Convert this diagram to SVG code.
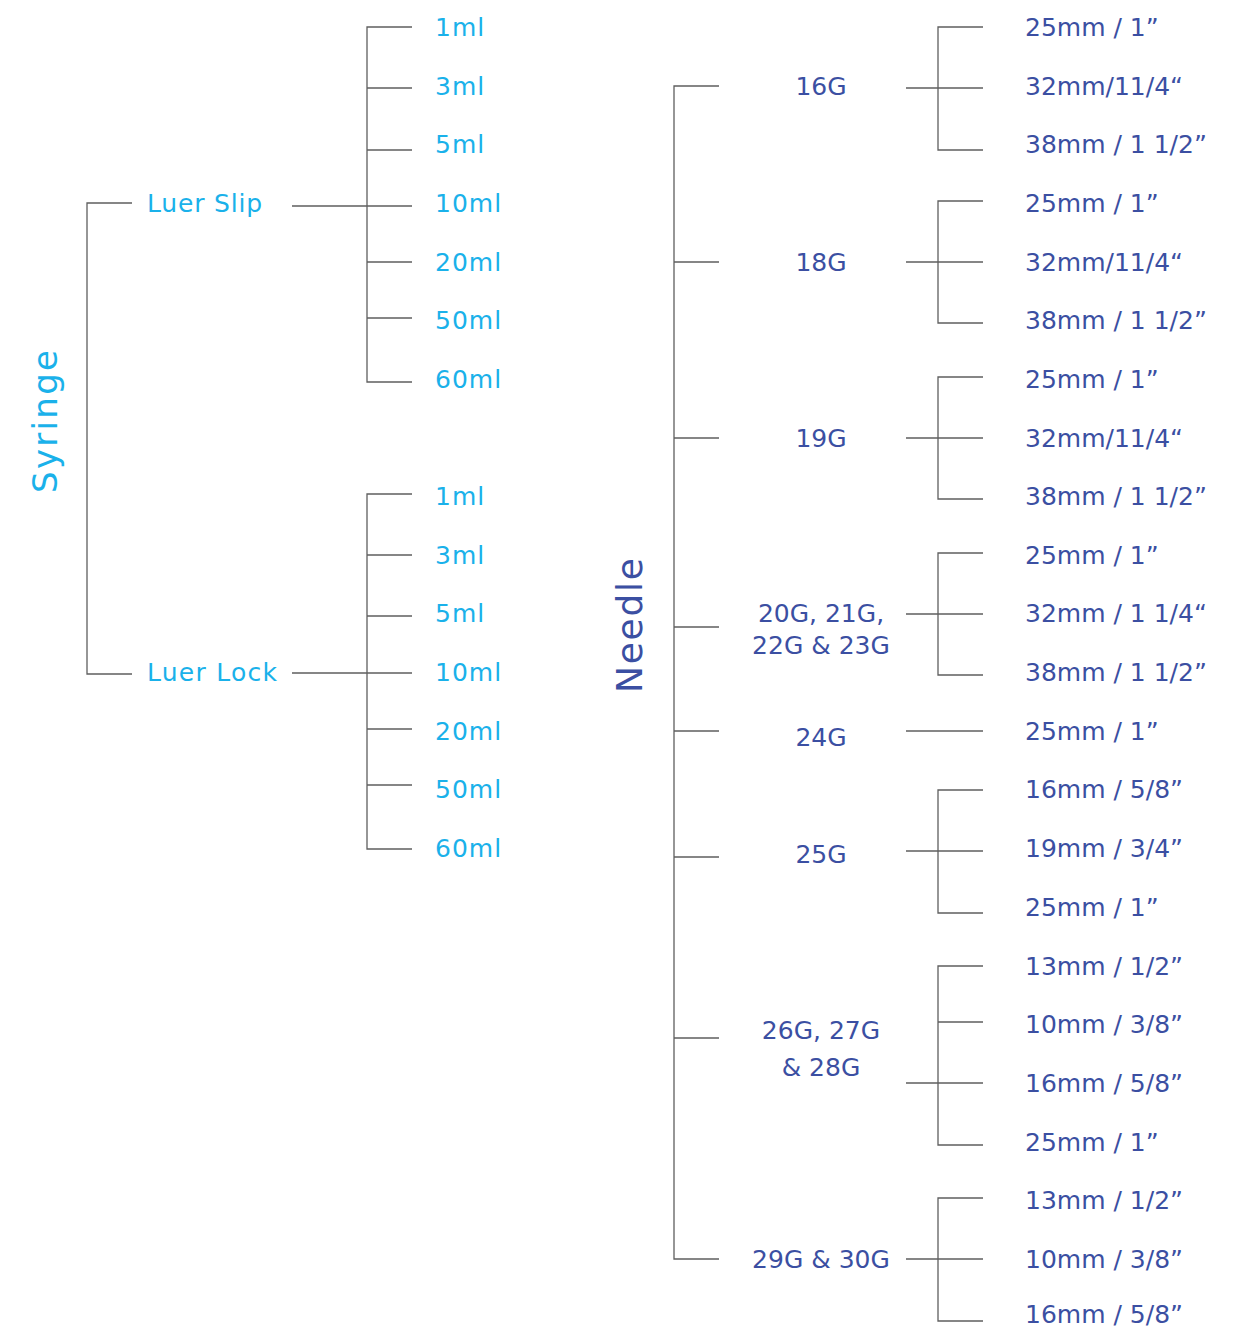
<svg xmlns="http://www.w3.org/2000/svg" width="1237" height="1329" viewBox="0 0 1237 1329">
<style>
.ln{fill:none;stroke:#5f5f5f;stroke-width:1.3}
text{font-family:"DejaVu Sans","Liberation Sans",sans-serif;font-size:25px}
.cy{fill:#1ab1ea;letter-spacing:1px}
.bl{fill:#3b4fa2}
.mid{text-anchor:middle}
</style>
<rect width="1237" height="1329" fill="#ffffff"/>
<g id="connectors" class="ln">
<path d="M132,203 H87 V674 H132"/>
<path d="M292,206 H412 M412,27 H367 V382 H412 M367,88 H412 M367,150 H412 M367,262 H412 M367,318 H412"/>
<path d="M292,673 H412 M412,494 H367 V849 H412 M367,555 H412 M367,616 H412 M367,729 H412 M367,785 H412"/>
<path d="M719,86 H674 V1259 H719 M674,262 H719 M674,438 H719 M674,627 H719 M674,731 H719 M674,857 H719 M674,1038 H719"/>
<path d="M906,88 H983 M983,27 H938 V150 H983"/>
<path d="M906,262 H983 M983,201 H938 V323 H983"/>
<path d="M906,438 H983 M983,377 H938 V499 H983"/>
<path d="M906,614 H983 M983,553 H938 V675 H983"/>
<path d="M906,731 H983"/>
<path d="M906,851 H983 M983,790 H938 V913 H983"/>
<path d="M906,1083 H983 M983,966 H938 V1145 H983 M938,1022 H983"/>
<path d="M906,1259 H983 M983,1198 H938 V1321 H983"/>
</g>
<g id="syringe"><text class="cy mid" transform="translate(57,421.5) rotate(-90)" style="font-size:34px;letter-spacing:0" textLength="143" lengthAdjust="spacing">Syringe</text></g>
<g id="luer-slip"><text class="cy" x="147" y="212" textLength="116" lengthAdjust="spacing">Luer Slip</text></g>
<g id="luer-lock"><text class="cy" x="147" y="681" textLength="131" lengthAdjust="spacing">Luer Lock</text></g>
<g id="slip-sizes">
<text class="cy" x="435" y="36">1ml</text>
<text class="cy" x="435" y="95">3ml</text>
<text class="cy" x="435" y="153">5ml</text>
<text class="cy" x="435" y="212">10ml</text>
<text class="cy" x="435" y="271">20ml</text>
<text class="cy" x="435" y="329">50ml</text>
<text class="cy" x="435" y="388">60ml</text>
</g>
<g id="lock-sizes">
<text class="cy" x="435" y="505">1ml</text>
<text class="cy" x="435" y="564">3ml</text>
<text class="cy" x="435" y="622">5ml</text>
<text class="cy" x="435" y="681">10ml</text>
<text class="cy" x="435" y="740">20ml</text>
<text class="cy" x="435" y="798">50ml</text>
<text class="cy" x="435" y="857">60ml</text>
</g>
<g id="needle"><text class="bl mid" transform="translate(642,625.5) rotate(-90)" style="font-size:36px" textLength="135" lengthAdjust="spacing">Needle</text></g>
<g id="gauges">
<g id="g16"><text class="bl mid" x="821" y="95">16G</text></g>
<g id="g18"><text class="bl mid" x="821" y="271">18G</text></g>
<g id="g19"><text class="bl mid" x="821" y="447">19G</text></g>
<g id="g20"><text class="bl mid" x="821" y="622">20G, 21G,</text><text class="bl mid" x="821" y="654">22G &amp; 23G</text></g>
<g id="g24"><text class="bl mid" x="821" y="746">24G</text></g>
<g id="g25"><text class="bl mid" x="821" y="863">25G</text></g>
<g id="g26"><text class="bl mid" x="821" y="1039">26G, 27G</text><text class="bl mid" x="821" y="1076">&amp; 28G</text></g>
<g id="g29"><text class="bl mid" x="821" y="1268">29G &amp; 30G</text></g>
</g>
<g id="lengths" class="bl">
<text x="1025" y="36">25mm / 1”</text>
<text x="1025" y="95">32mm/11/4“</text>
<text x="1025" y="153">38mm / 1 1/2”</text>
<text x="1025" y="212">25mm / 1”</text>
<text x="1025" y="271">32mm/11/4“</text>
<text x="1025" y="329">38mm / 1 1/2”</text>
<text x="1025" y="388">25mm / 1”</text>
<text x="1025" y="447">32mm/11/4“</text>
<text x="1025" y="505">38mm / 1 1/2”</text>
<text x="1025" y="564">25mm / 1”</text>
<text x="1025" y="622">32mm / 1 1/4“</text>
<text x="1025" y="681">38mm / 1 1/2”</text>
<text x="1025" y="740">25mm / 1”</text>
<text x="1025" y="798">16mm / 5/8”</text>
<text x="1025" y="857">19mm / 3/4”</text>
<text x="1025" y="916">25mm / 1”</text>
<text x="1025" y="975">13mm / 1/2”</text>
<text x="1025" y="1033">10mm / 3/8”</text>
<text x="1025" y="1092">16mm / 5/8”</text>
<text x="1025" y="1151">25mm / 1”</text>
<text x="1025" y="1209">13mm / 1/2”</text>
<text x="1025" y="1268">10mm / 3/8”</text>
<text x="1025" y="1323">16mm / 5/8”</text>
</g>
</svg>
